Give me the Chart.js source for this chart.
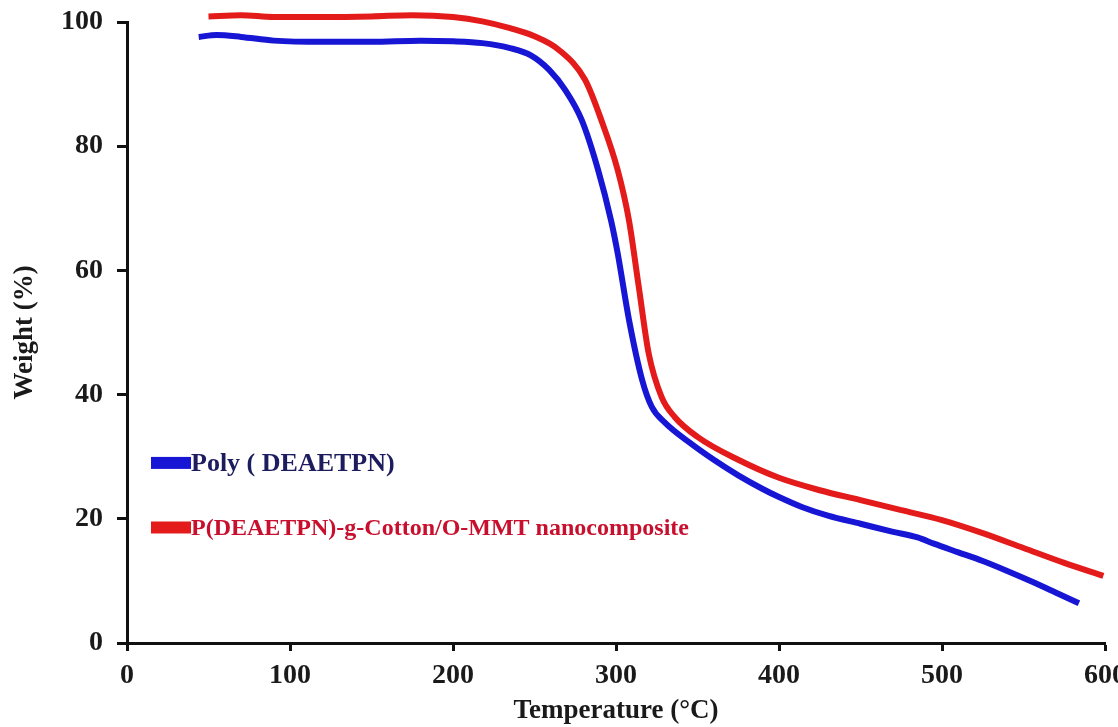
<!DOCTYPE html>
<html>
<head>
<meta charset="utf-8">
<title>TGA - Weight vs Temperature</title>
<script src="https://cdn.jsdelivr.net/npm/chart.js@4.4.1/dist/chart.umd.min.js"></script>
<style>
    html, body { margin: 0; padding: 0; background: #fff; }
    #wrap { width: 1118px; height: 727px; position: relative; }
</style>
</head>
<body>
<div id="wrap"><canvas id="chart-tga"></canvas></div>
<script>
// Poly ( DEAETPN)
const tempPoly   = [44, 55, 70, 90, 120, 150, 180, 200, 218, 235, 248, 259, 269, 279, 289, 297, 301, 308, 316, 322, 330, 345, 360, 375, 390, 400, 414, 430, 450, 470, 485, 495, 510, 525, 540, 555, 570, 584];
const weightPoly = [97.6, 97.9, 97.6, 97.0, 96.8, 96.8, 97.0, 96.9, 96.6, 95.8, 94.6, 92.3, 89.0, 84.2, 76.2, 68.0, 62.8, 52.0, 42.4, 38.0, 35.5, 32.3, 29.5, 27.0, 24.8, 23.5, 21.9, 20.5, 19.2, 17.9, 17.0, 16.0, 14.6, 13.2, 11.6, 9.9, 8.1, 6.4];

// P(DEAETPN)-g-Cotton/O-MMT nanocomposite
const tempNano   = [50, 70, 90, 120, 150, 175, 200, 218, 235, 250, 265, 281, 291, 301, 308, 314, 320, 328, 336, 350, 375, 400, 425, 450, 475, 500, 525, 550, 575, 599];
const weightNano = [100.9, 101.1, 100.8, 100.8, 100.9, 101.1, 100.8, 100.1, 99.0, 97.7, 95.5, 90.7, 84.2, 76.2, 68.0, 57.3, 46.7, 39.6, 36.4, 33.2, 29.5, 26.6, 24.6, 23.0, 21.4, 19.8, 17.7, 15.3, 12.9, 10.8];

const xTicks = [0, 100, 200, 300, 400, 500, 600];
const yTicks = [0, 20, 40, 60, 80, 100];

const labelPoly = 'Poly ( DEAETPN)';
const labelNano = 'P(DEAETPN)-g-Cotton/O-MMT nanocomposite';

const toPoints = (xs, ys) => xs.map((x, i) => ({ x: x, y: ys[i] }));

const serif = "'Liberation Serif', 'Times New Roman', serif";

// legend drawn inside the plot area, lower left
const innerLegend = {
    id: 'innerLegend',
    afterDraw(chart) {
        const { ctx, chartArea, scales } = chart;
        const items = [
            { ds: chart.data.datasets[0], at: 29,   text: '#1c1c5e', size: 26 },
            { ds: chart.data.datasets[1], at: 18.6, text: '#c8102e', size: 24 }
        ];
        ctx.save();
        ctx.textBaseline = 'middle';
        items.forEach(it => {
            const cy = scales.y.getPixelForValue(it.at);
            const x0 = chartArea.left + 24;
            ctx.fillStyle = it.ds.borderColor;
            ctx.fillRect(x0, cy - 6, 40, 12);
            ctx.font = 'bold ' + it.size + 'px ' + serif;
            ctx.fillStyle = it.text;
            ctx.fillText(it.ds.label, x0 + 40, cy + 1);
        });
        ctx.restore();
    }
};

const ctx = document.getElementById('chart-tga').getContext('2d');
new Chart(ctx, {
    type: 'line',
    data: {
        datasets: [
            {
                label: labelPoly,
                data: toPoints(tempPoly, weightPoly),
                borderColor: '#1616d4',
                borderWidth: 6,
                pointRadius: 0,
                cubicInterpolationMode: 'monotone',
                clip: false
            },
            {
                label: labelNano,
                data: toPoints(tempNano, weightNano),
                borderColor: '#e41b1b',
                borderWidth: 6,
                pointRadius: 0,
                cubicInterpolationMode: 'monotone',
                clip: false
            }
        ]
    },
    options: {
        responsive: true,
        maintainAspectRatio: false,
        animation: false,
        layout: { padding: { top: 22, right: 13, left: 0, bottom: 0 } },
        plugins: {
            legend: { display: false },
            tooltip: { enabled: false }
        },
        scales: {
            x: {
                type: 'linear',
                min: 0,
                max: 600,
                afterFit: s => { s.height = 84; s.paddingLeft = 0; s.paddingRight = 0; },
                afterBuildTicks: s => { s.ticks = xTicks.map(v => ({ value: v })); },
                border: { display: true, color: '#111', width: 3 },
                grid: { drawOnChartArea: false, drawTicks: true, tickLength: 8, tickWidth: 3, tickColor: '#111' },
                ticks: {
                    color: '#1a1a1a',
                    padding: 8,
                    maxRotation: 0,
                    font: { family: serif, size: 28, weight: 'bold' }
                },
                title: {
                    display: true,
                    text: 'Temperature (°C)',
                    color: '#1a1a1a',
                    padding: { top: 0, bottom: 2 },
                    font: { family: serif, size: 27, weight: 'bold', lineHeight: 1.0 }
                }
            },
            y: {
                min: 0,
                max: 100,
                afterFit: s => { s.width = 127; s.paddingTop = 0; s.paddingBottom = 0; },
                afterBuildTicks: s => { s.ticks = yTicks.map(v => ({ value: v })); },
                border: { display: true, color: '#111', width: 3 },
                grid: { drawOnChartArea: false, drawTicks: true, tickLength: 10, tickWidth: 3, tickColor: '#111' },
                ticks: {
                    color: '#1a1a1a',
                    padding: 14,
                    font: { family: serif, size: 28, weight: 'bold' }
                },
                title: {
                    display: true,
                    text: 'Weight (%)',
                    color: '#1a1a1a',
                    padding: { top: 12, bottom: 0 },
                    font: { family: serif, size: 27, weight: 'bold', lineHeight: 1.0 }
                }
            }
        }
    },
    plugins: [innerLegend]
});
</script>
</body>
</html>
